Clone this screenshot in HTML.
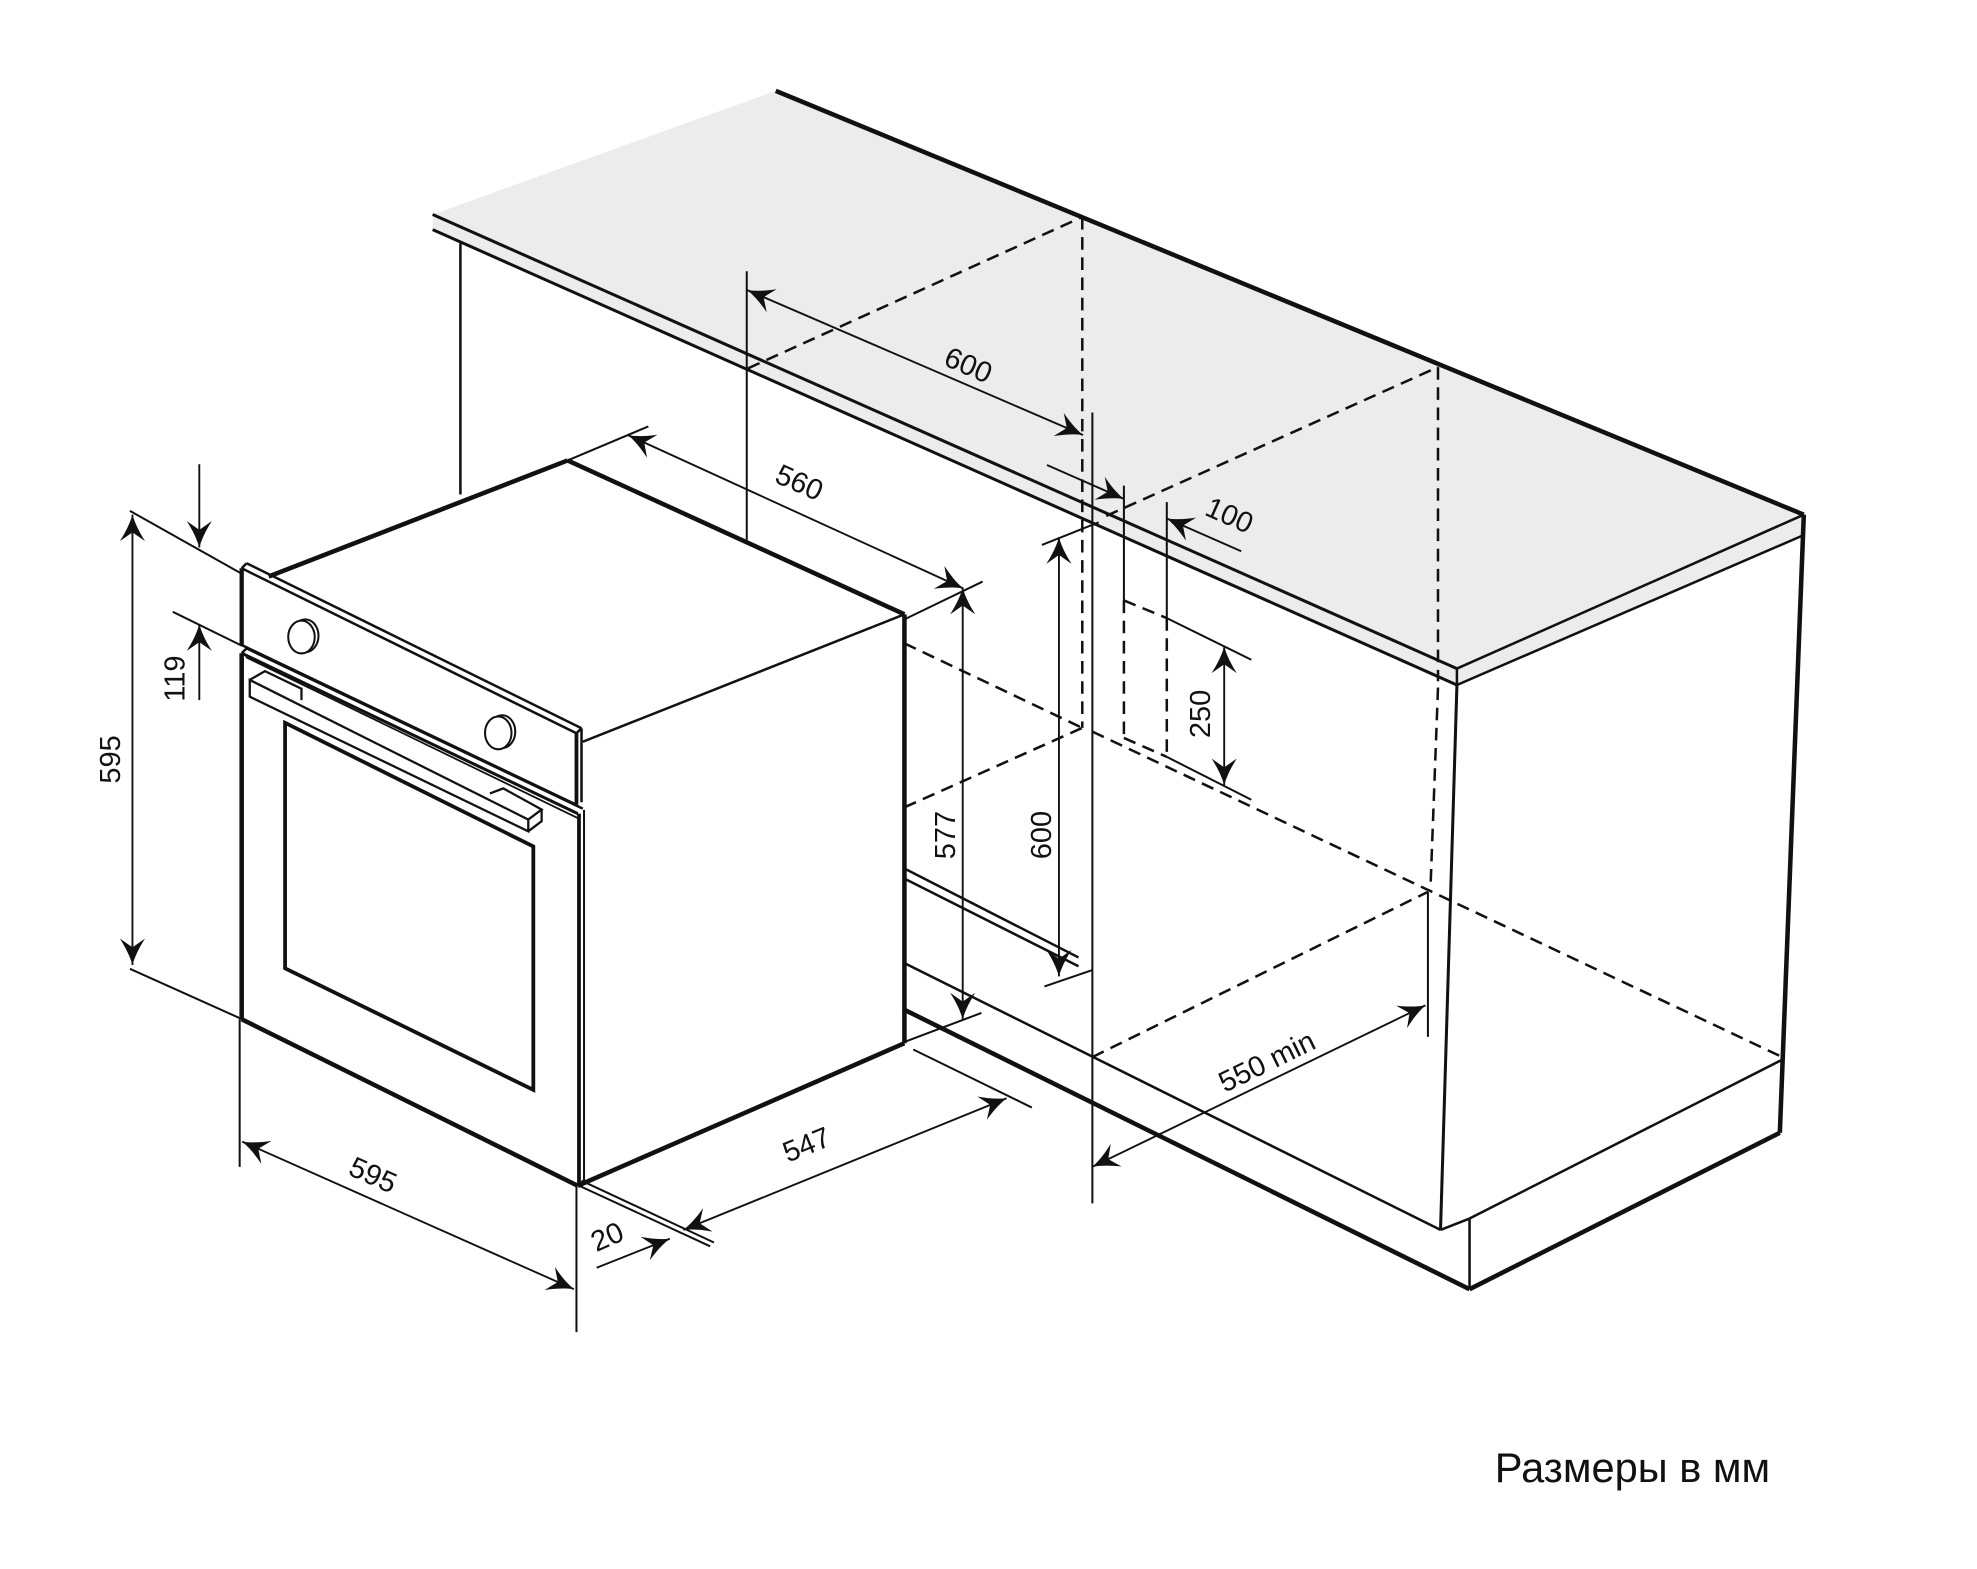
<!DOCTYPE html>
<html><head><meta charset="utf-8"><style>
html,body{margin:0;padding:0;background:#fff;}
svg{display:block;}
text{font-family:"Liberation Sans",sans-serif;fill:#111;}
</style></head><body>
<svg width="1977" height="1569" viewBox="0 0 1567.3 1243.8" xmlns="http://www.w3.org/2000/svg">
<defs>
<marker id="a" viewBox="-24 -12 26 24" markerWidth="26" markerHeight="24" refX="0" refY="0" orient="auto-start-reverse" markerUnits="userSpaceOnUse">
<path d="M0,0 C-7,-2 -14,-5.5 -21,-10 L-14,0 L-21,10 C-14,5.5 -7,2 0,0Z" fill="#111"/>
</marker>
</defs>
<g stroke="#111" fill="none" stroke-linecap="butt">
<!-- countertop -->
<polygon points="343,170 615,72 1430,408 1155,530" fill="#ececec" stroke="none"/>
<polygon points="343,170 1155,530 1155,543 343,182" fill="#ececec" stroke="none"/>
<polygon points="1155,530 1430,408 1428,425 1155,543" fill="#ececec" stroke="none"/>
<line x1="343" y1="170" x2="1155" y2="530" stroke-width="2.4"/>
<line x1="343" y1="182" x2="1155" y2="543" stroke-width="2.4"/>
<line x1="1155" y1="530" x2="1430" y2="408" stroke-width="2"/>
<line x1="1155" y1="543" x2="1428" y2="425" stroke-width="2"/>
<line x1="615" y1="72" x2="1430" y2="408" stroke-width="3.6"/>
<line x1="1155" y1="530" x2="1155" y2="543" stroke-width="2"/>
<!-- cabinet -->
<line x1="365" y1="193" x2="365" y2="392" stroke-width="2"/>
<line x1="1155" y1="543" x2="1142" y2="975" stroke-width="2.4"/>
<line x1="1430" y1="408" x2="1411" y2="898" stroke-width="3.6"/>
<line x1="1413" y1="840" x2="1165" y2="966" stroke-width="2"/>
<line x1="1142" y1="975" x2="1165" y2="966" stroke-width="2"/>
<line x1="1165" y1="966" x2="1165" y2="1022" stroke-width="2"/>
<line x1="1165" y1="1022" x2="1411" y2="898" stroke-width="3.6"/>
<line x1="716" y1="800" x2="1165" y2="1022" stroke-width="3.6"/>
<line x1="716" y1="763" x2="1142" y2="975" stroke-width="2"/>
<line x1="716" y1="688" x2="855" y2="759" stroke-width="2"/>
<line x1="716" y1="696" x2="855" y2="766" stroke-width="2"/>
<line x1="866" y1="327" x2="866" y2="954" stroke-width="1.6"/>
<!-- dashed -->
<g stroke-dasharray="10,6" stroke-width="2">
<line x1="593" y1="292" x2="858" y2="172"/>
<line x1="858" y1="172" x2="858" y2="577"/>
<line x1="877" y1="409" x2="1140" y2="291"/>
<line x1="1140" y1="291" x2="1140" y2="540"/>
<line x1="1140" y1="545" x2="1134" y2="705"/>
<line x1="717" y1="510" x2="858" y2="577"/>
<line x1="717" y1="640" x2="858" y2="577"/>
<line x1="866" y1="580" x2="1413" y2="838"/>
<line x1="866" y1="838" x2="1132" y2="707"/>
<line x1="891" y1="476" x2="891" y2="585"/>
<line x1="891" y1="476" x2="925" y2="490"/>
<line x1="925" y1="490" x2="925" y2="600"/>
<line x1="891" y1="585" x2="925" y2="600"/>
</g>
<!-- vent/extension solids -->
<g stroke-width="1.6">
<line x1="891" y1="385" x2="891" y2="476"/>
<line x1="925" y1="398" x2="925" y2="490"/>
<line x1="925" y1="490" x2="992" y2="523"/>
<line x1="925" y1="600" x2="992" y2="634"/>
<line x1="592" y1="215" x2="592" y2="428"/>
<line x1="1132" y1="707" x2="1132" y2="822"/>
<line x1="826" y1="432" x2="871" y2="414"/>
<line x1="828" y1="782" x2="866" y2="769"/>
<line x1="717" y1="491" x2="779" y2="461"/>
<line x1="717" y1="826" x2="778" y2="803"/>
<line x1="450" y1="365" x2="514" y2="338"/>
<line x1="103" y1="405" x2="192" y2="455"/>
<line x1="103" y1="768" x2="192" y2="808"/>
<line x1="137" y1="485" x2="192" y2="512"/>
<line x1="190" y1="808" x2="190" y2="925"/>
<line x1="457" y1="940" x2="457" y2="1056"/>
<line x1="457" y1="939" x2="563" y2="988"/>
<line x1="461" y1="936" x2="566" y2="985"/>
<line x1="724" y1="832" x2="818" y2="878"/>
</g>
<!-- dimension lines -->
<g stroke-width="1.5">
<line x1="592.5" y1="230" x2="858.6" y2="344.8" marker-start="url(#a)" marker-end="url(#a)"/>
<line x1="498" y1="345" x2="763.6" y2="466.4" marker-start="url(#a)" marker-end="url(#a)"/>
<line x1="830" y1="368.6" x2="891" y2="395.5" marker-end="url(#a)"/>
<line x1="984" y1="437" x2="925" y2="411" marker-end="url(#a)"/>
<line x1="839.5" y1="426" x2="839.5" y2="774" marker-start="url(#a)" marker-end="url(#a)"/>
<line x1="763.2" y1="466" x2="763.2" y2="808" marker-start="url(#a)" marker-end="url(#a)"/>
<line x1="970.5" y1="512.6" x2="970.5" y2="622.3" marker-start="url(#a)" marker-end="url(#a)"/>
<line x1="105" y1="408" x2="105" y2="765" marker-start="url(#a)" marker-end="url(#a)"/>
<line x1="158" y1="368" x2="158" y2="434" marker-end="url(#a)"/>
<line x1="158" y1="555" x2="158" y2="495" marker-end="url(#a)"/>
<line x1="192" y1="905" x2="455" y2="1022" marker-start="url(#a)" marker-end="url(#a)"/>
<line x1="541.7" y1="975" x2="798" y2="870.6" marker-start="url(#a)" marker-end="url(#a)"/>
<line x1="473" y1="1005" x2="531" y2="982" marker-end="url(#a)"/>
<line x1="866" y1="925" x2="1130" y2="797" marker-start="url(#a)" marker-end="url(#a)"/>
</g>
<!-- oven -->
<line x1="213" y1="457" x2="450" y2="365" stroke-width="3.6"/>
<line x1="450" y1="365" x2="717" y2="487" stroke-width="3.6"/>
<line x1="717" y1="487" x2="717" y2="827" stroke-width="3.6"/>
<line x1="717" y1="827" x2="458" y2="940" stroke-width="3.6"/>
<line x1="462" y1="588" x2="717" y2="487" stroke-width="2"/>
<!-- panel -->
<polygon points="191.6,450.5 457,581.3 457,638 191.6,511.3" fill="#fff" stroke="none"/>
<line x1="191.6" y1="450.5" x2="191.6" y2="511.3" stroke-width="3.4"/>
<line x1="191.6" y1="450.5" x2="195.5" y2="446.5" stroke-width="2"/>
<line x1="195.5" y1="446.5" x2="461" y2="577.3" stroke-width="2"/>
<line x1="191.6" y1="450.5" x2="457" y2="581.3" stroke-width="2"/>
<line x1="457" y1="581.3" x2="461" y2="577.3" stroke-width="2"/>
<line x1="457" y1="581.3" x2="457" y2="638" stroke-width="3"/>
<line x1="461" y1="577.3" x2="461" y2="636" stroke-width="2"/>
<line x1="191.6" y1="511.3" x2="457" y2="638" stroke-width="2"/>
<ellipse cx="242" cy="504" rx="10.5" ry="13" stroke-width="1.6" fill="#fff"/>
<ellipse cx="239" cy="505" rx="10.5" ry="13" stroke-width="1.6" fill="#fff"/>
<ellipse cx="398" cy="580" rx="10.5" ry="13" stroke-width="1.6" fill="#fff"/>
<ellipse cx="395" cy="581" rx="10.5" ry="13" stroke-width="1.6" fill="#fff"/>
<!-- door -->
<line x1="191.6" y1="517.8" x2="191.6" y2="808" stroke-width="3.6"/>
<line x1="191.6" y1="517.8" x2="195.5" y2="514" stroke-width="2"/>
<line x1="195.5" y1="514" x2="462" y2="641" stroke-width="2"/>
<line x1="191.6" y1="517.8" x2="458" y2="645" stroke-width="2.4"/>
<line x1="195" y1="521" x2="458" y2="648.5" stroke-width="1.4"/>
<line x1="459" y1="645" x2="459" y2="940" stroke-width="3"/>
<line x1="463" y1="642" x2="463" y2="937" stroke-width="1.6"/>
<line x1="191.6" y1="808" x2="458" y2="940" stroke-width="3.6"/>
<polygon points="226,573 422.8,671 422.8,864 226,767.6" stroke-width="3" fill="none"/>
<!-- handle -->
<polygon points="198,539 418.8,649.7 418.8,659 198,552.3" stroke-width="1.8" fill="#fff"/>
<polyline points="198,539 210,532 239,546 239,555" stroke-width="1.8"/>
<polyline points="388.4,629 399,625 429.4,641.7 418.8,649.7" stroke-width="1.8"/>
<polyline points="429.4,641.7 429.4,651 418.8,659" stroke-width="1.8"/>
</g>
<!-- labels -->
<g font-size="23">
<text transform="translate(767,291) rotate(23.5)" text-anchor="middle" dominant-baseline="middle">600</text>
<text transform="translate(633,384) rotate(24)" text-anchor="middle" dominant-baseline="middle">560</text>
<text transform="translate(974,410) rotate(24)" text-anchor="middle" dominant-baseline="middle">100</text>
<text transform="translate(827,662) rotate(-90)" text-anchor="middle" dominant-baseline="middle">600</text>
<text transform="translate(751,662) rotate(-90)" text-anchor="middle" dominant-baseline="middle">577</text>
<text transform="translate(953,566) rotate(-90)" text-anchor="middle" dominant-baseline="middle">250</text>
<text transform="translate(89,602) rotate(-90)" text-anchor="middle" dominant-baseline="middle">595</text>
<text transform="translate(140,538) rotate(-90)" text-anchor="middle" dominant-baseline="middle">119</text>
<text transform="translate(295,933) rotate(24)" text-anchor="middle" dominant-baseline="middle">595</text>
<text transform="translate(640,909) rotate(-22)" text-anchor="middle" dominant-baseline="middle">547</text>
<text transform="translate(482,982) rotate(-24)" text-anchor="middle" dominant-baseline="middle">20</text>
<text transform="translate(1005,843) rotate(-26)" text-anchor="middle" dominant-baseline="middle">550 min</text>
</g>
<text x="1185" y="1175" font-size="33">Размеры в мм</text>
</svg>
</body></html>
